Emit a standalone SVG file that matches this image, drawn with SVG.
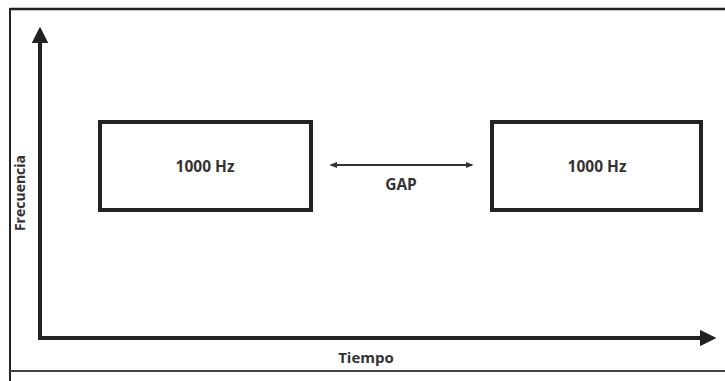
<svg xmlns="http://www.w3.org/2000/svg" width="725" height="381" viewBox="0 0 725 381">
<defs>
<style>
.lbl{font-family:"Open Sans","Liberation Sans",sans-serif;font-weight:bold;fill:#333;text-anchor:middle}
.box{fill:#fff;stroke:#222;stroke-width:4}
.ax{stroke:#222;stroke-width:4;fill:none}
.gap{stroke:#333;stroke-width:2;fill:none}
</style>
<marker id="ah" viewBox="0 0 10 10" refX="5" refY="5" markerWidth="4.2" markerHeight="4.2" orient="auto-start-reverse"><path d="M0,0 L10,5 L0,10 z" fill="#222"/></marker>
<marker id="sh" viewBox="0 0 10 10" refX="8" refY="5" markerWidth="4" markerHeight="4" orient="auto-start-reverse"><path d="M0,1 L10,5 L0,9 z" fill="#333"/></marker>
</defs>
<rect width="725" height="381" fill="#fff"/>
<g id="frame" fill="none" stroke="#222">
<line x1="10" y1="9" x2="725" y2="9" stroke-width="2.5"/>
<line x1="10" y1="8" x2="10" y2="381" stroke-width="2"/>
<line x1="10" y1="371" x2="725" y2="371" stroke-width="2" stroke="#444"/>
</g>
<g id="connectors">
<line class="ax" x1="40" y1="340" x2="40" y2="35" marker-end="url(#ah)"/>
<line class="ax" x1="38" y1="338" x2="708" y2="338" marker-end="url(#ah)"/>
<line class="gap" x1="331" y1="165" x2="472" y2="165" marker-start="url(#sh)" marker-end="url(#sh)"/>
</g>
<g id="box1"><rect class="box" x="100" y="122" width="211" height="88"/><text class="lbl" x="205" y="172" font-size="15.5">1000 Hz</text></g>
<g id="box2"><rect class="box" x="492" y="122" width="209" height="88"/><text class="lbl" x="597" y="172" font-size="15.5">1000 Hz</text></g>
<g id="gaplabel"><text class="lbl" x="401" y="190" font-size="15.5">GAP</text></g>
<g id="xlabel"><text class="lbl" x="366" y="363" font-size="15">Tiempo</text></g>
<g id="ylabel"><text class="lbl" x="0" y="0" font-size="14" transform="translate(25,193) rotate(-90)">Frecuencia</text></g>
</svg>
